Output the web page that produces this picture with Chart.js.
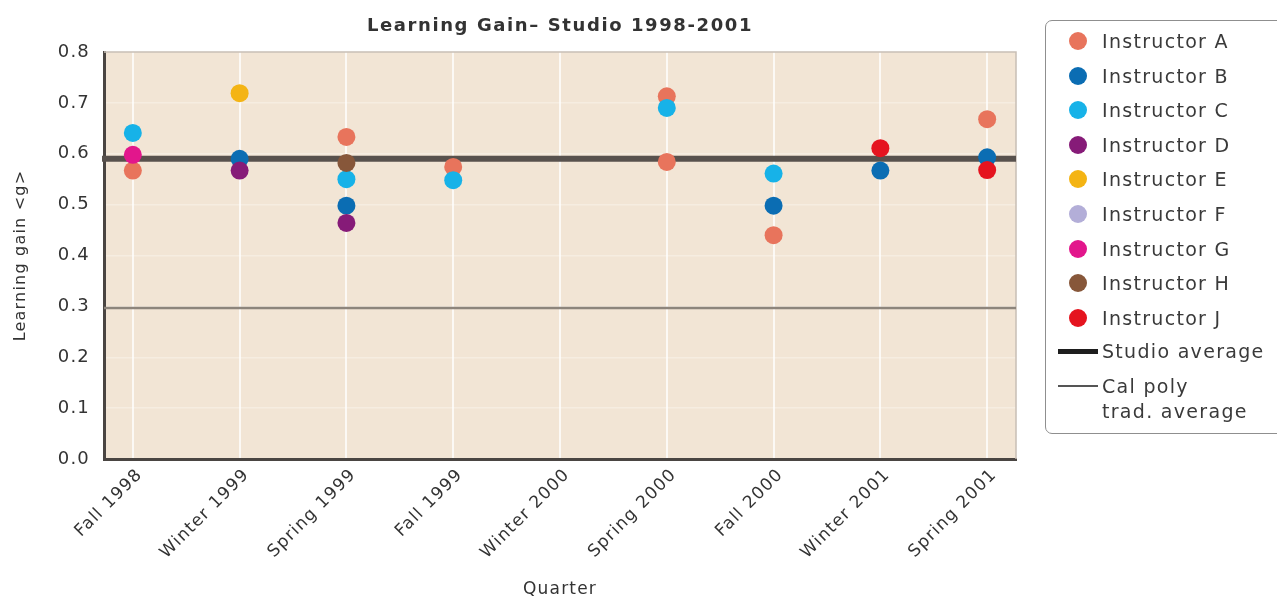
<!DOCTYPE html>
<html><head><meta charset="utf-8">
<script src="https://cdn.jsdelivr.net/npm/chart.js@4"></script>
<style>
html,body{margin:0;padding:0;background:#fff;}
#wrap{position:relative;width:1277px;height:601px;overflow:hidden;}
#chart{position:absolute;left:0;top:0;}
#title{position:absolute;top:14px;left:104px;width:912px;text-align:center;font:bold 18px "DejaVu Sans",sans-serif;letter-spacing:1.6px;color:#333;}
#legend{position:absolute;left:1045px;top:20px;width:260px;height:414px;border:1.5px solid #8f8f8f;border-radius:7px;box-sizing:border-box;}
.li{position:absolute;left:0;height:24px;}
.dot{position:absolute;left:23px;top:3px;width:18px;height:18px;border-radius:50%;}
.ln{position:absolute;left:12px;background:#222;width:40px;}
.lt{position:absolute;left:56px;top:0;font:19px "DejaVu Sans",sans-serif;letter-spacing:1.3px;color:#3a3a3a;white-space:nowrap;line-height:25px;}
</style></head>
<body>
<div id="wrap">
<canvas id="chart" width="1277" height="601"></canvas>
<div id="title"></div>
<div id="legend"></div>
</div>
<script>
const chartTitle = "Learning Gain\u2013 Studio 1998-2001";
const yAxisTitle = "Learning gain <g>";
const xAxisTitle = "Quarter";
const quarters = ["Fall 1998","Winter 1999","Spring 1999","Fall 1999","Winter 2000","Spring 2000","Fall 2000","Winter 2001","Spring 2001"];
const yTicks = [0,0.1,0.2,0.3,0.4,0.5,0.6,0.7,0.8];
const instructorNames = ["Instructor A","Instructor B","Instructor C","Instructor D","Instructor E","Instructor F","Instructor G","Instructor H","Instructor J"];
const instructorColors = ["#e8745c","#0b6db3","#17b2e8","#861b78","#f4b414","#b3aed8","#e2168c","#87573a","#e5141f"];
const instructorA = [["Fall 1998",0.567],["Spring 1999",0.633],["Fall 1999",0.574],["Spring 2000",0.713],["Spring 2000",0.584],["Fall 2000",0.44],["Spring 2001",0.668]];
const instructorB = [["Winter 1999",0.59],["Spring 1999",0.498],["Fall 2000",0.498],["Winter 2001",0.567],["Spring 2001",0.593]];
const instructorC = [["Fall 1998",0.641],["Spring 1999",0.55],["Fall 1999",0.548],["Spring 2000",0.69],["Fall 2000",0.561]];
const instructorD = [["Winter 1999",0.567],["Spring 1999",0.464]];
const instructorE = [["Winter 1999",0.719]];
const instructorF = [];
const instructorG = [["Fall 1998",0.598]];
const instructorH = [["Spring 1999",0.582]];
const instructorJ = [["Winter 2001",0.611],["Spring 2001",0.568]];
const studioAverage = 0.59;
const calPolyAverage = 0.297;
const lineLegend = [["Studio average"],["Cal poly","trad. average"]];

const instructorData = [instructorA,instructorB,instructorC,instructorD,instructorE,instructorF,instructorG,instructorH,instructorJ];

document.getElementById('title').textContent = chartTitle;

// HTML legend
const leg = document.getElementById('legend');
const rowH = 34.6;
instructorNames.forEach((n,i)=>{
  const d=document.createElement('div');d.className='li';d.style.top=(8+i*rowH)+'px';
  d.innerHTML='<div class="dot" style="background:'+instructorColors[i]+'"></div><div class="lt"></div>';
  d.querySelector('.lt').textContent=n;leg.appendChild(d);
});
lineLegend.forEach((lines,j)=>{
  const i=instructorNames.length+j;
  const d=document.createElement('div');d.className='li';d.style.top=(7+i*rowH)+'px';
  const w = j===0?5:2;
  d.innerHTML='<div class="ln" style="top:'+(12-w/2)+'px;height:'+w+'px;background:'+(j===0?'#1e1e1e':'#555')+'"></div><div class="lt"></div>';
  d.querySelector('.lt').innerHTML=lines.map(s=>s.replace(/&/g,'&amp;')).join('<br>');
  leg.appendChild(d);
});

const spacingPlugin = {
  id:'spacing',
  beforeLayout(c){c.ctx.letterSpacing='1.2px';},
  beforeDraw(c){c.ctx.letterSpacing='1.2px';}
};
const decor = {
  id:'decor',
  beforeDraw(c){
    const a=c.chartArea, ctx=c.ctx;
    ctx.save();ctx.fillStyle='#f2e5d5';ctx.fillRect(a.left,a.top,a.right-a.left,a.bottom-a.top);ctx.restore();
  },
  beforeDatasetsDraw(c){
    const a=c.chartArea, ctx=c.ctx, y=c.scales.y;
    ctx.save();
    ctx.strokeStyle='#c8bfb5';ctx.lineWidth=1.5;
    ctx.beginPath();ctx.moveTo(a.left,a.top);ctx.lineTo(a.right,a.top);ctx.lineTo(a.right,a.bottom);ctx.stroke();
    ctx.strokeStyle='#8d857c';ctx.lineWidth=2.5;
    let py=y.getPixelForValue(calPolyAverage);
    ctx.beginPath();ctx.moveTo(a.left,py);ctx.lineTo(a.right,py);ctx.stroke();
    ctx.strokeStyle='#58514d';ctx.lineWidth=6;
    py=y.getPixelForValue(studioAverage);
    ctx.beginPath();ctx.moveTo(a.left-2,py);ctx.lineTo(a.right,py);ctx.stroke();
    ctx.restore();
  }
};

const datasets = instructorNames.map((n,i)=>({
  label:n,
  data:instructorData[i].map(p=>({x:quarters.indexOf(p[0]),y:p[1]})),
  backgroundColor:instructorColors[i],
  borderColor:instructorColors[i],
  borderWidth:0,
  pointRadius:9,
  pointHoverRadius:9,
  order:20-i
}));

new Chart(document.getElementById('chart'),{
  type:'scatter',
  data:{datasets},
  plugins:[spacingPlugin,decor],
  options:{
    responsive:false,animation:false,
    layout:{padding:{top:52,left:0,right:261,bottom:0}},
    plugins:{legend:{display:false},tooltip:{enabled:false},title:{display:false}},
    scales:{
      x:{
        type:'linear',min:-0.27,max:quarters.length-1+0.27,
        afterBuildTicks(s){s.ticks=quarters.map((q,i)=>({value:i}));},
        afterFit(s){s.height=142;},
        ticks:{autoSkip:false,maxRotation:45,minRotation:45,padding:6,labelOffset:7,color:'#333',font:{family:'DejaVu Sans',size:17},callback:(v)=>quarters[v]},
        grid:{color:'rgba(255,255,255,0.75)',lineWidth:2,drawTicks:false},
        border:{color:'#4a4542',width:3},
        title:{display:true,text:xAxisTitle,color:'#333',font:{family:'DejaVu Sans',size:17},padding:{top:0,bottom:1}}
      },
      y:{
        min:0,max:0.8,
        afterBuildTicks(s){s.ticks=yTicks.map(v=>({value:v}));},
        afterFit(s){s.width=104;},
        ticks:{padding:14,color:'#333',font:{family:'DejaVu Sans',size:18},callback:(v)=>v.toFixed(1)},
        grid:{color:'rgba(255,255,255,0.3)',lineWidth:1.5,drawTicks:false},
        border:{color:'#4a4542',width:3},
        title:{display:true,text:yAxisTitle,color:'#333',font:{family:'DejaVu Sans',size:16},padding:{top:11,bottom:0}}
      }
    }
  }
});
</script>
</body></html>
